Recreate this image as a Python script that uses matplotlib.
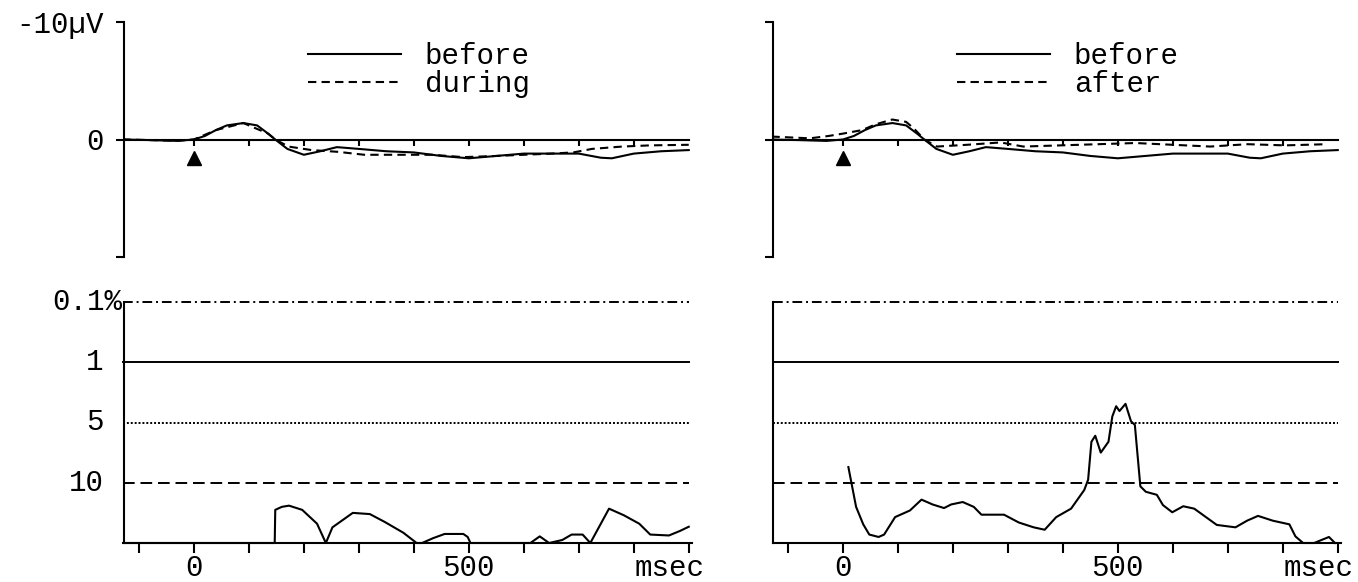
import matplotlib
matplotlib.use("Agg")
import matplotlib.pyplot as plt
import matplotlib.transforms as mtransforms

plt.rcParams['font.family'] = ['Liberation Mono', 'DejaVu Sans Mono']

# ---------------- data ----------------
# ERP traces (µV, negative plotted upward), time in ms
before_t = [-130, -80, -30, 0, 20, 40, 60, 90, 115, 135, 148, 170, 200, 230, 260,
            300, 350, 400, 450, 500, 550, 600, 650, 700, 740, 760, 800, 850, 900]
before_v = [0.0, 0.05, 0.12, 0.0, -0.3, -0.8, -1.2, -1.4, -1.2, -0.5, 0.0, 0.8, 1.3,
            1.0, 0.65, 0.8, 1.0, 1.1, 1.4, 1.6, 1.4, 1.2, 1.2, 1.2, 1.55, 1.6, 1.2, 1.0, 0.9]

during_t = [-130, -30, 0, 40, 90, 135, 148, 172, 214, 262, 310, 366, 434, 490, 550,
            650, 690, 724, 779, 830, 900]
during_v = [0.0, 0.1, 0.0, -0.8, -1.4, -0.5, 0.0, 0.6, 0.9, 1.05, 1.3, 1.3, 1.3, 1.5,
            1.4, 1.2, 1.1, 0.8, 0.6, 0.5, 0.45]

after_t = [-130, -60, -26, 0, 35, 60, 90, 115, 130, 148, 171, 226, 287, 328, 396, 464,
           532, 600, 668, 736, 804, 880]
after_v = [-0.25, -0.1, -0.3, -0.5, -0.8, -1.3, -1.7, -1.5, -0.9, 0.0, 0.6, 0.45,
           0.25, 0.6, 0.5, 0.4, 0.3, 0.45, 0.6, 0.4, 0.5, 0.4]

# significance curves (level units: 0 = baseline, 1 = 10%, 2 = 5%, 3 = 1%, 4 = 0.1%)
sig_during_t = [-125, 147, 148, 160, 173, 197, 224, 240, 252, 289, 320, 347, 381, 405,
                415, 435, 456, 490, 498, 503, 612, 629, 646, 670, 687, 707, 721, 755,
                782, 810, 830, 864, 884, 900]
sig_during_v = [0, 0, 0.55, 0.6, 0.62, 0.55, 0.32, 0, 0.26, 0.5, 0.48, 0.35, 0.17, 0,
                0, 0.08, 0.15, 0.15, 0.1, 0, 0, 0.11, 0, 0.05, 0.14, 0.14, 0, 0.57,
                0.46, 0.32, 0.14, 0.125, 0.2, 0.27]

sig_after_t = [10, 24, 37, 48, 65, 75, 95, 122, 143, 163, 184, 197, 218, 238, 252, 293,
               320, 347, 367, 388, 415, 439, 446, 452, 459, 469, 483, 490, 497, 503,
               514, 524, 531, 541, 551, 571, 582, 599, 619, 639, 680, 714, 735, 755,
               782, 812, 823, 837, 857, 884, 895]
sig_after_v = [1.26, 0.6, 0.31, 0.14, 0.1, 0.14, 0.43, 0.54, 0.72, 0.64, 0.58, 0.64,
               0.68, 0.6, 0.47, 0.47, 0.34, 0.26, 0.22, 0.43, 0.57, 0.88, 1.05, 1.68,
               1.78, 1.5, 1.68, 2.1, 2.27, 2.19, 2.31, 2.02, 1.96, 0.94, 0.85, 0.8,
               0.63, 0.51, 0.61, 0.57, 0.30, 0.26, 0.37, 0.45, 0.37, 0.31, 0.11, 0.0,
               0.0, 0.1, 0.0]

sig_levels = [4, 3, 2, 1]
sig_labels = ['0.1%', '1', '5', '10']
sig_styles = [(0, (5, 2, 1, 2)), '-', (0, (1.0, 1.0)), (0, (6, 3))]

time_ticks = list(range(-100, 901, 100))
time_labels = {0: '0', 500: '500', 900: 'msec'}
ms_ticks_zero = list(range(0, 801, 100))

# ---------------- figure ----------------
W, H = 1358, 582
fig = plt.figure(figsize=(W / 100, H / 100), dpi=100)
FS = 21
LW = 1.5
XLIM = (-128, 905)


def ax_px(x0, y_top, w, h):
    return fig.add_axes([x0 / W, 1 - (y_top + h) / H, w / W, h / H])


ax_tl = ax_px(123.5, 22, 568, 235)
ax_tr = ax_px(772.5, 22, 568, 235)
ax_bl = ax_px(123.5, 302, 568, 241)
ax_br = ax_px(772.5, 302, 568, 241)

for ax in (ax_tl, ax_tr, ax_bl, ax_br):
    ax.set_xlim(*XLIM)
    ax.set_facecolor('white')
    for s in ('top', 'right'):
        ax.spines[s].set_visible(False)
    ax.spines['left'].set_linewidth(LW)
    ax.spines['bottom'].set_linewidth(LW)


def top_panel(ax, comp_t, comp_v, comp_label, show_labels):
    ax.set_ylim(10, -10)
    ax.spines['bottom'].set_visible(False)
    ax.set_xticks([])
    ax.set_yticks([-10, 0, 10])
    ax.tick_params(axis='y', direction='out', length=6, width=LW, pad=8, labelsize=FS)
    if show_labels:
        ax.set_yticklabels(['-10\u00b5V', '0', ''])
    else:
        ax.set_yticklabels(['', '', ''])
    # zero line with ms ticks
    ax.plot([XLIM[0], 900], [0, 0], color='black', lw=LW)
    ax.vlines(ms_ticks_zero, 0, 0.55, color='black', lw=LW)
    ax.plot([0], [1.55], marker='^', color='black', markersize=10, clip_on=False)
    l1, = ax.plot(before_t, before_v, color='black', lw=LW, label='before')
    l2, = ax.plot(comp_t, comp_v, color='black', lw=LW, dashes=(4, 2.5), label=comp_label)
    ax.legend(handles=[l1, l2], loc='upper left', bbox_to_anchor=(0.325, 0.915),
              frameon=False, fontsize=FS, handlelength=3.2, handletextpad=0.8,
              labelspacing=0.0, borderpad=0, borderaxespad=0)


def bottom_panel(ax, t, v, show_labels):
    ax.set_ylim(0, 4)
    ax.set_xticks(time_ticks)
    ax.set_xticklabels([time_labels.get(k, '') for k in time_ticks])
    ax.tick_params(axis='x', direction='out', length=7, width=LW, pad=1, labelsize=FS)
    for lab in ax.get_xticklabels():
        if lab.get_text() == 'msec':
            lab.set_transform(lab.get_transform() +
                              mtransforms.ScaledTranslation(-19 / 100, 0, fig.dpi_scale_trans))
    ax.set_yticks([])
    for lev, st in zip(sig_levels, sig_styles):
        ax.plot([XLIM[0], 900], [lev, lev], color='black', lw=1.4, linestyle=st,
                clip_on=False)
    if show_labels:
        tr = mtransforms.blended_transform_factory(ax.transAxes, ax.transData)
        for lev, lab in zip(sig_levels, sig_labels):
            xoff = -0.003 if lab == '0.1%' else -0.035
            ax.text(xoff, lev, lab, transform=tr, ha='right', va='center', fontsize=FS)
    ax.plot(t, v, color='black', lw=LW, clip_on=False)


top_panel(ax_tl, during_t, during_v, 'during', True)
top_panel(ax_tr, after_t, after_v, 'after', False)
bottom_panel(ax_bl, sig_during_t, sig_during_v, True)
bottom_panel(ax_br, sig_after_t, sig_after_v, False)

fig.savefig('out.png', dpi=100, facecolor='white')
